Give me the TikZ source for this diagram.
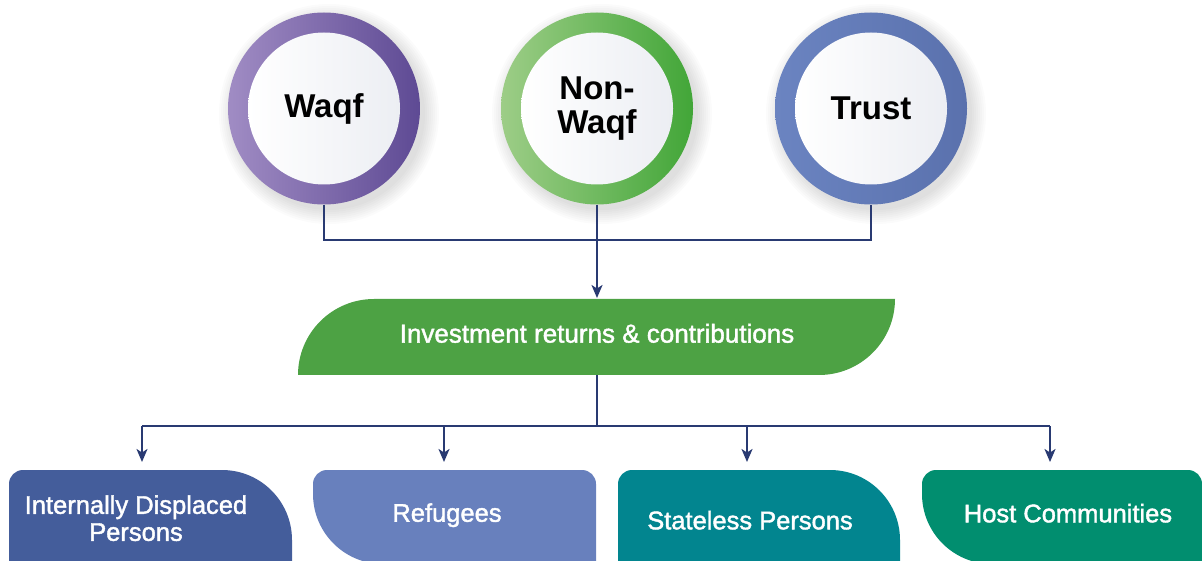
\documentclass[tikz,border=0pt]{standalone}
\usepackage{fontspec}
\setmainfont{Liberation Sans}
\usetikzlibrary{arrows.meta,positioning}

\definecolor{linknavy}{HTML}{293A72}
\definecolor{waqfL}{HTML}{A08CC4}
\definecolor{waqfR}{HTML}{5E4A94}
\definecolor{nonwaqfL}{HTML}{9DCD87}
\definecolor{nonwaqfR}{HTML}{42A638}
\definecolor{trustL}{HTML}{6B84C1}
\definecolor{trustR}{HTML}{5A71AD}
\definecolor{coregray}{HTML}{ECEEF3}
\definecolor{investgreen}{HTML}{4DA244}
\definecolor{idpblue}{HTML}{445D9B}
\definecolor{refugeeblue}{HTML}{6880BD}
\definecolor{statelessteal}{HTML}{02858F}
\definecolor{hostgreen}{HTML}{018E6F}

\begin{document}
\begin{tikzpicture}[x=1pt, y=1pt, > = {Stealth[length=13pt,width=11pt,inset=3.5pt]},
	ring/.style={circle, minimum size=192pt, inner sep=0pt},
	core/.style={circle, minimum size=152pt, inner sep=0pt, left color=white, right color=coregray,
		font=\bfseries\fontsize{33}{34}\selectfont, align=center},
	link/.style={draw=linknavy, line width=2pt},
	boxlabel/.style={anchor=north, text=white, font=\fontsize{25.5}{27}\selectfont\addfontfeature{FakeBold=1.6},
		align=center, inner sep=0pt}]
	\useasboundingbox (0,0) rectangle (1202,560);

	% soft shadows behind the rings
	\foreach \cx in {324,597,871}
		\foreach \r in {0,2,...,14}
			\fill[black, opacity=0.016] (\cx+5,446) circle[radius=96pt+\r pt];

	\node[ring, left color=waqfL, right color=waqfR] (waqf) at (324,451.5) {};
	\node[core] at (waqf) {Waqf};
	\node[ring, left color=nonwaqfL, right color=nonwaqfR] (nonwaqf) at (597,451.5) {};
	\node[core] at (nonwaqf) {Non-\\Waqf};
	\node[ring, left color=trustL, right color=trustR] (trust) at (871,451.5) {};
	\node[core] at (trust) {Trust};

	% middle box
	\fill[investgreen] (298,185) arc[start angle=180, end angle=90, radius=76pt] -- (895,261)
		arc[start angle=0, end angle=-90, radius=76pt] -- cycle;
	\node[boxlabel, minimum height=76pt, text depth=8pt, font=\fontsize{26}{27}\selectfont\addfontfeature{FakeBold=1.6}]
		(invest) at (597,261) {Investment returns \& contributions};

	% bottom boxes
	\fill[idpblue] (9,-4) -- (9,76) arc[start angle=180, end angle=90, radius=14pt] -- (222,90)
		arc[start angle=90, end angle=0, radius=70pt] -- (292,-4) -- cycle;
	\fill[refugeeblue] (313,66) -- (313,76) arc[start angle=180, end angle=90, radius=14pt] -- (582,90)
		arc[start angle=90, end angle=0, radius=14pt] -- (596,-4) -- (383,-4)
		arc[start angle=270, end angle=180, radius=70pt] -- cycle;
	\fill[statelessteal] (618,-4) -- (618,76) arc[start angle=180, end angle=90, radius=14pt] -- (830,90)
		arc[start angle=90, end angle=0, radius=70pt] -- (900,-4) -- cycle;
	\fill[hostgreen] (922,66) -- (922,76) arc[start angle=180, end angle=90, radius=14pt] -- (1188,90)
		arc[start angle=90, end angle=0, radius=14pt] -- (1202,-4) -- (992,-4)
		arc[start angle=270, end angle=180, radius=70pt] -- cycle;

	\node[boxlabel, minimum height=96pt] (idp) at (136,90) {Internally Displaced\\Persons};
	\node[boxlabel, minimum height=90pt] (refugee) at (447,90) {Refugees};
	\node[boxlabel, minimum height=100pt] (stateless) at (750,90) {Stateless Persons};
	\node[boxlabel, minimum height=86pt] (host) at (1068,90) {Host Communities};

	% connectors
	\coordinate (join) at (597,320);
	\coordinate (split) at (597,134);
	\draw[link] (waqf.south) |- (join) -| (trust.south);
	\draw[link,->, shorten >=1pt] (nonwaqf.south) -- (invest.north);
	\draw[link] (invest.south) -- (split);
	\draw[link] ([xshift=6pt]idp.north |- split) -- ([xshift=-18pt]host.north |- split);
	\foreach \n/\dx in {idp/6,refugee/-3,stateless/-3,host/-18}
		\draw[link,->, shorten >=8pt] ([xshift=\dx pt]\n.north |- split) -- ([xshift=\dx pt]\n.north);
\end{tikzpicture}
\end{document}
